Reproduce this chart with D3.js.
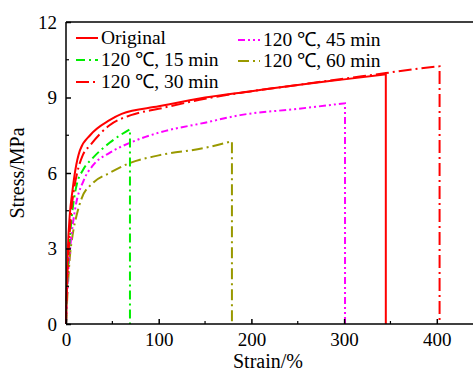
<!DOCTYPE html>
<html>
<head>
<meta charset="utf-8">
<script src="https://cdn.jsdelivr.net/npm/d3@7"></script>
<style>
  body { margin: 0; background: #fff; }
</style>
</head>
<body>
<svg id="chart" width="473" height="376"></svg>
<script>
// series names + data (strain %, stress MPa)
const seriesNames = ['Original', '120 ℃, 15 min', '120 ℃, 30 min', '120 ℃, 45 min', '120 ℃, 60 min'];
const original = [[0,0],[1,1.8],[2,3],[4,4.3],[7,5.3],[10,6.1],[15,6.9],[26,7.5],[47,8.1],[60,8.35],[100,8.65],[150,9.0],[200,9.25],[250,9.5],[300,9.72],[345,9.92]];
const min15 = [[0,0],[1,1.3],[3,2.8],[5,3.8],[8,4.8],[12,5.6],[18,6.1],[29,6.6],[47,7.2],[69,7.74]];
const min30 = [[0,0],[1,1.5],[3,3],[5,4.2],[8,5.2],[12,6.0],[18,6.7],[26,7.1],[47,7.9],[70,8.3],[100,8.55],[150,8.95],[200,9.25],[250,9.5],[300,9.75],[345,9.97],[380,10.15],[403,10.24]];
const min45 = [[0,0],[2,1.8],[5,3.2],[10,4.6],[19,5.7],[29,6.3],[47,6.8],[69,7.2],[100,7.6],[150,8.0],[188,8.3],[250,8.55],[301,8.77]];
const min60 = [[0,0],[2,1.5],[4,2.6],[7,3.5],[12,4.4],[17,5.0],[29,5.6],[47,6.0],[69,6.4],[100,6.7],[150,7.0],[179,7.26]];
const xTicks = [0, 100, 200, 300, 400];
const yTicks = [0, 3, 6, 9, 12];

const FONT = '"Liberation Serif", "Times New Roman", serif';
const colors = ['#ff0000', '#00ee00', '#ff0000', '#ff00ff', '#999900'];
const dashes = [null, '9,4,2,4', '13,4,2,4', '7,3,2,3,2,3', '11,4,2,4'];
const allData = [original, min15, min30, min45, min60];

const svg = d3.select('#chart').style('font-family', FONT);
const mLeft = 66, mTop = 22, mBottom = 324;
const x = d3.scaleLinear().domain([0, 440]).range([mLeft, mLeft + 440 * 0.927]);
const y = d3.scaleLinear().domain([0, 12]).range([mBottom, mTop]);

// curves: smooth rise, then the break drops straight to zero
const curve = d3.line().x(d => x(d[0])).y(d => y(d[1])).curve(d3.curveMonotoneX);
const order = [4, 3, 1, 2, 0];
order.forEach(i => {
  const pts = allData[i];
  const last = pts[pts.length - 1];
  const d = curve(pts) + `L${x(last[0])},${y(0)}`;
  svg.append('path')
    .attr('d', d)
    .attr('fill', 'none')
    .attr('stroke', colors[i])
    .attr('stroke-width', 2)
    .attr('stroke-dasharray', dashes[i]);
});

// frame
const frame = svg.append('g').attr('stroke', '#000').attr('stroke-width', 1.5);
frame.append('line').attr('x1', mLeft).attr('x2', mLeft).attr('y1', mTop).attr('y2', mBottom);
frame.append('line').attr('x1', mLeft).attr('x2', 473).attr('y1', mBottom).attr('y2', mBottom);
frame.append('line').attr('x1', mLeft).attr('x2', 473).attr('y1', mTop).attr('y2', mTop);

// axes, ticks pointing inward
const xAxis = d3.axisBottom(x).tickValues(xTicks).tickSizeInner(-5).tickSizeOuter(0).tickPadding(9);
const gx = svg.append('g').attr('transform', `translate(0,${mBottom})`).call(xAxis);
const yAxis = d3.axisLeft(y).tickValues(yTicks).tickSizeInner(-5).tickSizeOuter(0).tickPadding(9);
const gy = svg.append('g').attr('transform', `translate(${mLeft},0)`).call(yAxis);
[gx, gy].forEach(g => {
  g.style('font-family', FONT).style('font-size', '19px');
  g.select('.domain').remove();
  g.selectAll('.tick line').attr('stroke-width', 1.5);
  g.selectAll('text').attr('fill', '#000');
});

// minor ticks
svg.append('g').selectAll('line').data([50, 150, 250, 350]).join('line')
  .attr('x1', d => x(d)).attr('x2', d => x(d)).attr('y1', mBottom).attr('y2', mBottom - 3)
  .attr('stroke', '#000').attr('stroke-width', 1.2);
svg.append('g').selectAll('line').data([1.5, 4.5, 7.5, 10.5]).join('line')
  .attr('x1', mLeft).attr('x2', mLeft + 3).attr('y1', d => y(d)).attr('y2', d => y(d))
  .attr('stroke', '#000').attr('stroke-width', 1.2);

// axis titles
svg.append('text').attr('x', 268).attr('y', 368).attr('text-anchor', 'middle')
  .style('font-size', '20px').text('Strain/%');
svg.append('text').attr('transform', 'translate(24,173) rotate(-90)').attr('text-anchor', 'middle')
  .style('font-size', '20px').text('Stress/MPa');

// legend
const legendPos = [[76, 38], [76, 60], [76, 82], [238, 40], [238, 61]];
seriesNames.forEach((name, i) => {
  const [lx, ly] = legendPos[i];
  svg.append('line').attr('x1', lx).attr('x2', lx + 22).attr('y1', ly).attr('y2', ly)
    .attr('stroke', colors[i]).attr('stroke-width', 2).attr('stroke-dasharray', dashes[i]);
  svg.append('text').attr('x', lx + 25).attr('y', ly + 6).style('font-size', '19.5px').text(name);
});
</script>
</body>
</html>
